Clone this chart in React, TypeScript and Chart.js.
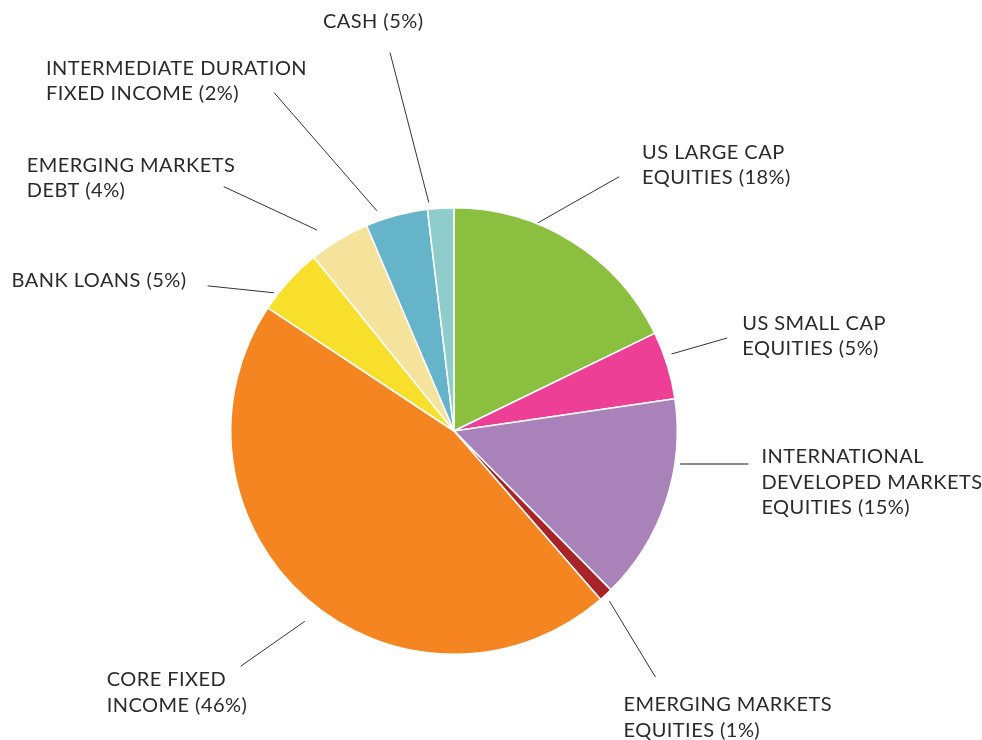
import React, { useEffect, useRef } from 'react';
import { Chart, registerables } from 'chart.js';

Chart.register(...registerables);

const CATEGORIES = [
  'US LARGE CAP EQUITIES',
  'US SMALL CAP EQUITIES',
  'INTERNATIONAL DEVELOPED MARKETS EQUITIES',
  'EMERGING MARKETS EQUITIES',
  'CORE FIXED INCOME',
  'BANK LOANS',
  'EMERGING MARKETS DEBT',
  'INTERMEDIATE DURATION FIXED INCOME',
  'CASH',
];

const LABEL_LINES = [
  ['US LARGE CAP', 'EQUITIES'],
  ['US SMALL CAP', 'EQUITIES'],
  ['INTERNATIONAL', 'DEVELOPED MARKETS', 'EQUITIES'],
  ['EMERGING MARKETS', 'EQUITIES'],
  ['CORE FIXED', 'INCOME'],
  ['BANK LOANS'],
  ['EMERGING MARKETS', 'DEBT'],
  ['INTERMEDIATE DURATION', 'FIXED INCOME'],
  ['CASH'],
];

const LABEL_PERCENTS = [18, 5, 15, 1, 46, 5, 4, 2, 5];

const SLICE_VALUES = [17.8, 4.9, 14.9, 1.0, 45.7, 4.9, 4.4, 4.5, 1.9];

const COLORS = [
  '#8bbf40',
  '#ec3f95',
  '#a882b9',
  '#a82428',
  '#f48521',
  '#f7df2b',
  '#f5e39b',
  '#66b4c9',
  '#8fcdcc',
];

// leader layout: t = position within slice, r0 = start radius factor,
// a1 = end angle (deg clockwise from top), r1 = end radius factor,
// dx/dy = text offset from leader end (left edge, first baseline)
const LEADERS = [
  { t: 0.343, r0: 1.006, a1: 33.0, r1: 1.358, dx: 23, dy: -18 },
  { t: 0.364, r0: 1.033, a1: 71.2, r1: 1.293, dx: 15, dy: -8 },
  { t: 0.309, r0: 1.024, a1: 96.4, r1: 1.327, dx: 13, dy: -1, color: '#8a8a8a', width: 2 },
  { t: 0.62, r0: 1.032, a1: 140.7, r1: 1.425, dx: -32, dy: 34 },
  { t: 0.481, r0: 1.083, a1: 222.2, r1: 1.422, dx: -134, dy: 20 },
  { t: 0.228, r0: 1.017, a1: 300.5, r1: 1.281, dx: -196, dy: 1 },
  { t: 0.289, r0: 1.09, a1: 316.7, r1: 1.504, dx: -197, dy: -15 },
  { t: 0.231, r0: 1.045, a1: 332.0, r1: 1.717, dx: -228, dy: -18 },
  { t: 0.079, r0: 1.03, a1: 350.4, r1: 1.72, dx: -67, dy: -24 },
];

const FONT = '20px Lato';
const LINE_HEIGHT = 25.5;

const labelPlugin = {
  id: 'leaderLabels',
  afterDraw(chart: any) {
    const ctx = chart.ctx;
    const meta = chart.getDatasetMeta(0);
    ctx.save();
    meta.data.forEach((arc: any, i: number) => {
      const { x, y, startAngle, endAngle, outerRadius } = arc.getProps(
        ['x', 'y', 'startAngle', 'endAngle', 'outerRadius'],
        true
      );
      const L = LEADERS[i];
      const a0 = startAngle + L.t * (endAngle - startAngle);
      const sx = x + Math.cos(a0) * outerRadius * L.r0;
      const sy = y + Math.sin(a0) * outerRadius * L.r0;
      const a1 = ((L.a1 - 90) * Math.PI) / 180;
      const ex = x + Math.cos(a1) * outerRadius * L.r1;
      const ey = y + Math.sin(a1) * outerRadius * L.r1;
      ctx.beginPath();
      ctx.strokeStyle = L.color || '#333333';
      ctx.lineWidth = L.width || 1;
      ctx.moveTo(sx, sy);
      ctx.lineTo(ex, ey);
      ctx.stroke();

      ctx.fillStyle = '#2a2a2a';
      ctx.font = FONT;
      try {
        (ctx as any).letterSpacing = '0.45px';
      } catch (e) {}
      ctx.textAlign = 'left';
      ctx.textBaseline = 'alphabetic';
      const lines = LABEL_LINES[i].slice();
      lines[lines.length - 1] = lines[lines.length - 1] + ' (' + LABEL_PERCENTS[i] + '%)';
      lines.forEach((ln: string, k: number) => {
        ctx.fillText(ln, ex + L.dx, ey + L.dy + k * LINE_HEIGHT);
      });
    });
    ctx.restore();
  },
};

export default function App() {
  const ref = useRef<HTMLCanvasElement | null>(null);
  useEffect(() => {
    if (!ref.current) return;
    const chart = new Chart(ref.current, {
      type: 'pie',
      data: {
        labels: CATEGORIES,
        datasets: [
          {
            data: SLICE_VALUES,
            backgroundColor: COLORS,
            borderColor: '#ffffff',
            borderWidth: 1.5,
          },
        ],
      },
      options: {
        animation: false,
        responsive: false,
        maintainAspectRatio: false,
        layout: {
          padding: { left: 230, top: 207, right: 304, bottom: 85 },
        },
        plugins: {
          legend: { display: false },
          tooltip: { enabled: false },
        },
      },
      plugins: [labelPlugin],
    });
    return () => chart.destroy();
  }, []);
  return (
    <div style={{ position: 'fixed', left: 0, top: 0, width: 982, height: 740, background: '#ffffff' }}>
      <canvas ref={ref} width={982} height={740} style={{ display: 'block' }} />
    </div>
  );
}
